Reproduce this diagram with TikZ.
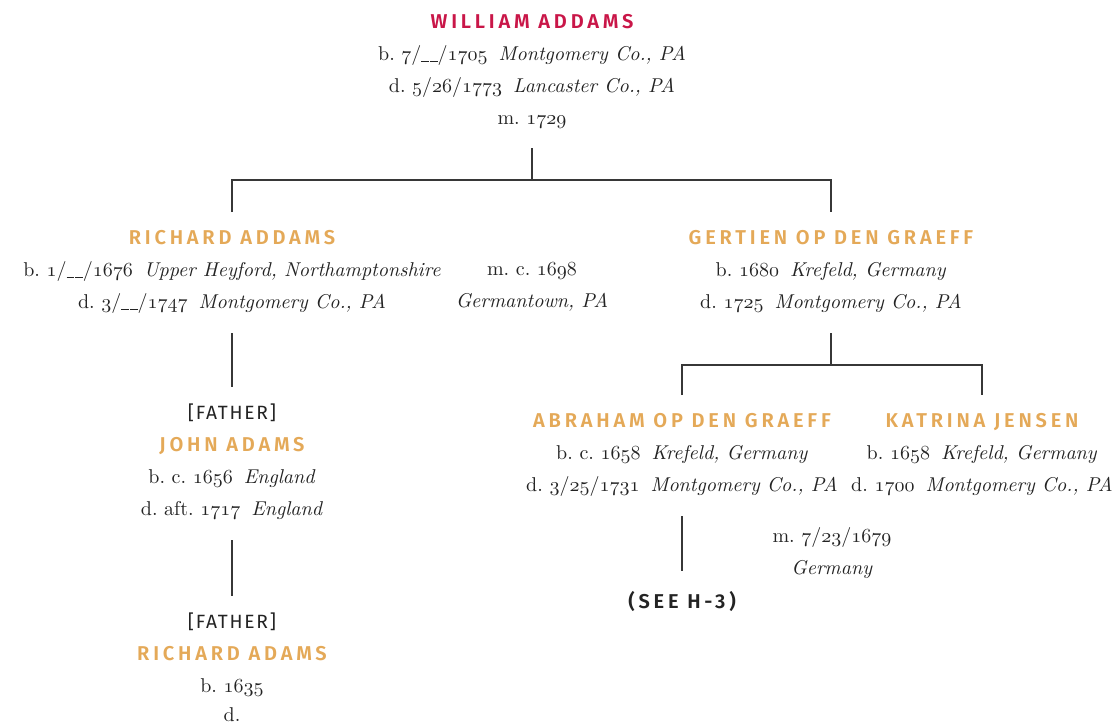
\documentclass[tikz,border=0pt]{standalone}
\usepackage{fontspec}
\usepackage{tikz}
\usetikzlibrary{positioning}
\newfontfamily\namesans{Fira Sans}[LetterSpace=19,BoldFont={Fira Sans SemiBold}]
\newfontfamily\relsans{Fira Sans}[LetterSpace=9]
\definecolor{namegold}{RGB}{228,169,88}
\definecolor{namered}{RGB}{201,22,72}
\definecolor{ink}{RGB}{35,35,35}
\definecolor{linegray}{RGB}{55,55,55}
\newcommand{\osn}[1]{{\usefont{OML}{cmm}{m}{it}#1}}
\newcommand{\place}[1]{\hspace{0.55em}\textit{#1}}
\newcommand{\blank}{\rule[-0.8pt]{3.7pt}{0.45pt}\hspace{0.7pt}\rule[-0.8pt]{3.7pt}{0.45pt}}
\newcommand{\gold}[1]{{\fontsize{10}{16}\namesans\bfseries\color{namegold}#1}}
\newcommand{\red}[1]{{\fontsize{10}{16}\namesans\bfseries\color{namered}#1}}
\newcommand{\rel}[1]{{\fontsize{9.6}{16}\relsans\color{ink}#1}}
\frenchspacing

\begin{document}
\begin{tikzpicture}[
x=0.5pt,y=-0.5pt,
Person/.style={align=center,inner sep=0pt,anchor=north,text=ink,font=\fontsize{10}{16}\selectfont},
Link/.style={draw=linegray,line width=0.6pt}
]
\useasboundingbox (0,0) rectangle (1116,724);

% the people
\node[Person] (william) at (532,14) {\red{WILLIAM ADDAMS}\\
 b. \osn{7}/\blank/\osn{1705}\place{Montgomery Co., PA}\\
 d. \osn{5}/\osn{26}/\osn{1773}\place{Lancaster Co., PA}\\
 m. \osn{1729}};

\node[Person] (richard) at (232,230) {\gold{RICHARD ADDAMS}\\
 b. \osn{1}/\blank/\osn{1676}\place{Upper Heyford, Northamptonshire}\\
 d. \osn{3}/\blank/\osn{1747}\place{Montgomery Co., PA}};

\node[Person] (marr1) at (532,262) {m. c. \osn{1698}\\ \textit{Germantown, PA}};

\node[Person] (gertien) at (831,230) {\gold{GERTIEN OP DEN GRAEFF}\\
 b. \osn{1680}\place{Krefeld, Germany}\\
 d. \osn{1725}\place{Montgomery Co., PA}};

\node[Person] (john) at (232,403) {\rel{[FATHER]}\\ \gold{JOHN ADAMS}\\
 b. c. \osn{1656}\place{England}\\
 d. aft. \osn{1717}\place{England}};

\node[Person] (richardsr) at (232,612) {\rel{[FATHER]}\\ \gold{RICHARD ADAMS}\\
 b. \osn{1635}\\[-1.5pt]
 d.};

\node[Person] (abraham) at (682,413) {\gold{ABRAHAM OP DEN GRAEFF}\\
 b. c. \osn{1658}\place{Krefeld, Germany}\\
 d. \osn{3}/\osn{25}/\osn{1731}\place{Montgomery Co., PA}};

\node[Person] (katrina) at (982,413) {\gold{KATRINA JENSEN}\\
 b. \osn{1658}\place{Krefeld, Germany}\\
 d. \osn{1700}\place{Montgomery Co., PA}};

\node[Person] (marr2) at (832,527) {m. \osn{7}/\osn{23}/\osn{1679}\\ \textit{Germany}};

\node[Person] (seeh) at (682,591) {{\fontsize{10}{16}\namesans\bfseries (SEE H-3)}};

% the lines
\coordinate (william-stem) at (532,148);
\coordinate (bar-top) at (532,180);
\coordinate (richard-drop) at (232,212);
\coordinate (gertien-drop) at (831,212);
\coordinate (richard-stem) at (232,333);
\coordinate (john-top) at (232,387);
\coordinate (john-stem) at (232,540);
\coordinate (richardsr-top) at (232,596);
\coordinate (gertien-stem) at (831,333);
\coordinate (bar-mid) at (831,365);
\coordinate (abraham-drop) at (682,395);
\coordinate (katrina-drop) at (982,395);
\coordinate (abraham-stem) at (682,516);
\coordinate (seeh-top) at (682,571);

\draw[Link] (william-stem) -- (bar-top);
\draw[Link] (richard-drop) |- (bar-top) -| (gertien-drop);
\draw[Link] (richard-stem) -- (john-top);
\draw[Link] (john-stem) -- (richardsr-top);
\draw[Link] (gertien-stem) -- (bar-mid);
\draw[Link] (abraham-drop) |- (bar-mid) -| (katrina-drop);
\draw[Link] (abraham-stem) -- (seeh-top);

\end{tikzpicture}
\end{document}
